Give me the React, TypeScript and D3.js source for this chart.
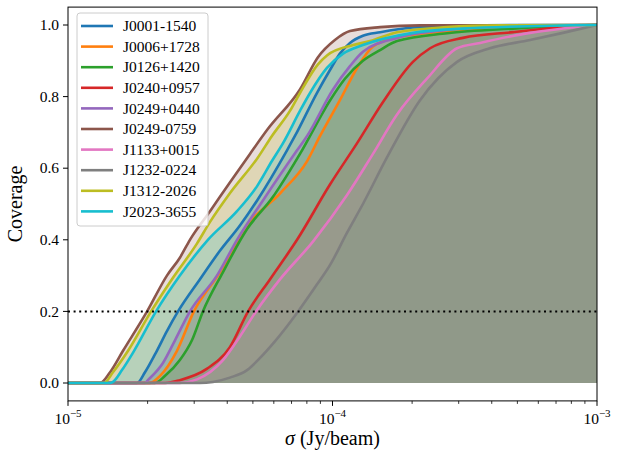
import React from "react";
import * as d3 from "d3";

// [log10(sigma / Jy/beam), coverage]
const J0001_1540 = [[-5,0],[-4.739,0],[-4.709,0.03],[-4.664,0.09],[-4.626,0.145],[-4.584,0.2],[-4.501,0.29],[-4.425,0.37],[-4.350,0.44],[-4.285,0.51],[-4.172,0.65],[-4.142,0.69],[-4.059,0.81],[-4.009,0.875],[-3.972,0.92],[-3.934,0.95],[-3.885,0.97],[-3.820,0.98],[-3.696,0.993],[-3.518,0.998],[-3.291,1],[-3,1]];
const J0006_1728 = [[-5,0],[-4.690,0],[-4.652,0.02],[-4.588,0.09],[-4.524,0.2],[-4.425,0.31],[-4.323,0.44],[-4.198,0.53],[-4.096,0.62],[-4.047,0.69],[-3.972,0.79],[-3.907,0.88],[-3.847,0.94],[-3.756,0.965],[-3.567,0.983],[-3.318,0.994],[-3.140,0.999],[-3,1]];
const J0126_1420 = [[-5,0],[-4.671,0],[-4.633,0.02],[-4.577,0.064],[-4.531,0.12],[-4.490,0.2],[-4.414,0.31],[-4.323,0.43],[-4.225,0.52],[-4.198,0.55],[-4.123,0.64],[-4.009,0.79],[-3.953,0.85],[-3.885,0.9],[-3.820,0.93],[-3.756,0.955],[-3.567,0.977],[-3.318,0.99],[-3.140,0.997],[-3,1]];
const J0240_0957 = [[-5,0],[-4.633,0],[-4.577,0.008],[-4.474,0.04],[-4.388,0.10],[-4.319,0.2],[-4.236,0.29],[-4.134,0.40],[-4.009,0.555],[-3.907,0.67],[-3.809,0.785],[-3.696,0.897],[-3.631,0.935],[-3.507,0.964],[-3.318,0.98],[-3.189,0.99],[-3.064,0.998],[-3,1]];
const J0249_0440 = [[-5,0],[-4.709,0],[-4.698,0.008],[-4.641,0.056],[-4.595,0.12],[-4.539,0.2],[-4.437,0.3],[-4.361,0.4],[-4.263,0.51],[-4.134,0.65],[-4.096,0.69],[-3.998,0.82],[-3.934,0.885],[-3.885,0.925],[-3.756,0.964],[-3.567,0.986],[-3.367,0.996],[-3,1]];
const J0249_0759 = [[-5,0],[-4.879,0],[-4.841,0.03],[-4.792,0.09],[-4.701,0.2],[-4.626,0.30],[-4.577,0.35],[-4.539,0.40],[-4.463,0.48],[-4.388,0.56],[-4.312,0.64],[-4.244,0.71],[-4.123,0.82],[-4.055,0.91],[-3.991,0.958],[-3.934,0.983],[-3.820,0.994],[-3.669,0.999],[-3,1]];
const J1133_0015 = [[-5,0],[-4.577,0],[-4.512,0.01],[-4.414,0.064],[-4.350,0.13],[-4.289,0.2],[-4.198,0.29],[-4.074,0.395],[-3.945,0.525],[-3.847,0.64],[-3.756,0.75],[-3.643,0.85],[-3.529,0.935],[-3.442,0.95],[-3.253,0.978],[-3.129,0.99],[-3,1]];
const J1232_0224 = [[-5,0],[-4.501,0],[-4.452,0.003],[-4.388,0.015],[-4.323,0.036],[-4.274,0.07],[-4.225,0.11],[-4.130,0.2],[-4.059,0.275],[-4.009,0.33],[-3.945,0.42],[-3.885,0.50],[-3.794,0.63],[-3.669,0.79],[-3.529,0.897],[-3.405,0.935],[-3.253,0.958],[-3.129,0.978],[-3,1]];
const J1312_2026 = [[-5,0],[-4.864,0],[-4.830,0.03],[-4.773,0.09],[-4.686,0.2],[-4.607,0.29],[-4.512,0.39],[-4.463,0.45],[-4.388,0.53],[-4.282,0.63],[-4.229,0.69],[-4.161,0.76],[-4.123,0.81],[-4.055,0.89],[-4.021,0.915],[-3.922,0.944],[-3.858,0.955],[-3.756,0.98],[-3.567,0.994],[-3.367,0.999],[-3,1]];
const J2023_3655 = [[-5,0],[-4.841,0],[-4.830,0.003],[-4.796,0.036],[-4.754,0.085],[-4.667,0.2],[-4.577,0.30],[-4.471,0.40],[-4.361,0.48],[-4.285,0.55],[-4.229,0.62],[-4.187,0.67],[-4.123,0.76],[-4.085,0.81],[-4.021,0.88],[-3.960,0.92],[-3.885,0.944],[-3.696,0.978],[-3.507,0.99],[-3,1]];

const seriesNames = ["J0001-1540","J0006+1728","J0126+1420","J0240+0957","J0249+0440","J0249-0759","J1133+0015","J1232-0224","J1312-2026","J2023-3655"];
const seriesData = [J0001_1540,J0006_1728,J0126_1420,J0240_0957,J0249_0440,J0249_0759,J1133_0015,J1232_0224,J1312_2026,J2023_3655];
const colors = ["#1f77b4","#ff7f0e","#2ca02c","#d62728","#9467bd","#8c564b","#e377c2","#7f7f7f","#bcbd22","#17becf"];
const yTicks = [0, 0.2, 0.4, 0.6, 0.8, 1.0];
const xMajorExp = [-5, -4, -3];
const threshold = 0.2;

const FONT = "'Liberation Serif', 'DejaVu Serif', serif";

export default function App() {
  const W = 631, H = 452;
  const left = 68, right = 597, top = 7.1, bottom = 400.9;
  const x = d3.scaleLog().domain([1e-5, 1e-3]).range([left, right]);
  const y = d3.scaleLinear().domain([-0.05, 1.05]).range([bottom, top]);

  const line = d3.line<number[]>().x(d => x(Math.pow(10, d[0]))).y(d => y(d[1])).curve(d3.curveMonotoneX);
  const area = d3.area<number[]>().x(d => x(Math.pow(10, d[0]))).y0(y(0)).y1(d => y(d[1])).curve(d3.curveMonotoneX);

  const minor: number[] = [];
  for (const e of [-5, -4]) for (let k = 2; k <= 9; k++) minor.push(k * Math.pow(10, e));

  return (
    <svg width={W} height={H} style={{ position: "absolute", left: 0, top: 0, background: "#fff" }} fontFamily={FONT}>
      <defs>
        <clipPath id="plotclip"><rect x={left} y={top} width={right - left} height={bottom - top} /></clipPath>
      </defs>
      <g clipPath="url(#plotclip)">
        {seriesData.map((s, i) => (
          <path key={"a" + i} d={area(s) || ""} fill={colors[i]} fillOpacity={0.2} stroke="none" />
        ))}
        {seriesData.map((s, i) => (
          <path key={"l" + i} d={line(s) || ""} fill="none" stroke={colors[i]} strokeWidth={2.6} />
        ))}
        <line x1={left} x2={right} y1={y(threshold)} y2={y(threshold)} stroke="#000" strokeWidth={2} strokeDasharray="2,3.6" />
      </g>
      <rect x={left} y={top} width={right - left} height={bottom - top} fill="none" stroke="#000" strokeWidth={1} />
      {yTicks.map(t => (
        <g key={t}>
          <line x1={left - 5} x2={left} y1={y(t)} y2={y(t)} stroke="#000" strokeWidth={1} />
          <text x={left - 9} y={y(t)} dy="0.33em" textAnchor="end" fontSize={15.5}>{t.toFixed(1)}</text>
        </g>
      ))}
      {xMajorExp.map(e => (
        <g key={e}>
          <line x1={x(Math.pow(10, e))} x2={x(Math.pow(10, e))} y1={bottom} y2={bottom + 5} stroke="#000" strokeWidth={1} />
          <text x={x(Math.pow(10, e))} y={bottom + 23} textAnchor="middle" fontSize={15.5}>
            10<tspan dy={-7} fontSize={11}>{"\u2212" + Math.abs(e)}</tspan>
          </text>
        </g>
      ))}
      {minor.map(v => (
        <line key={v} x1={x(v)} x2={x(v)} y1={bottom} y2={bottom + 3} stroke="#000" strokeWidth={0.8} />
      ))}
      <text x={(left + right) / 2} y={445} textAnchor="middle" fontSize={20}>
        <tspan fontStyle="italic">σ</tspan> (Jy/beam)
      </text>
      <text transform={`translate(22,${(top + bottom) / 2}) rotate(-90)`} textAnchor="middle" fontSize={20}>Coverage</text>
      <rect x={77} y={13} width={131} height={213} rx={3} fill="#fff" fillOpacity={0.8} stroke="#ccc" strokeWidth={1} />
      {seriesNames.map((n, i) => {
        const ly = 26 + i * 20.6;
        return (
          <g key={n}>
            <line x1={81} x2={113} y1={ly} y2={ly} stroke={colors[i]} strokeWidth={2.6} />
            <text x={123} y={ly} dy="0.33em" fontSize={15.5}>{n}</text>
          </g>
        );
      })}
    </svg>
  );
}
